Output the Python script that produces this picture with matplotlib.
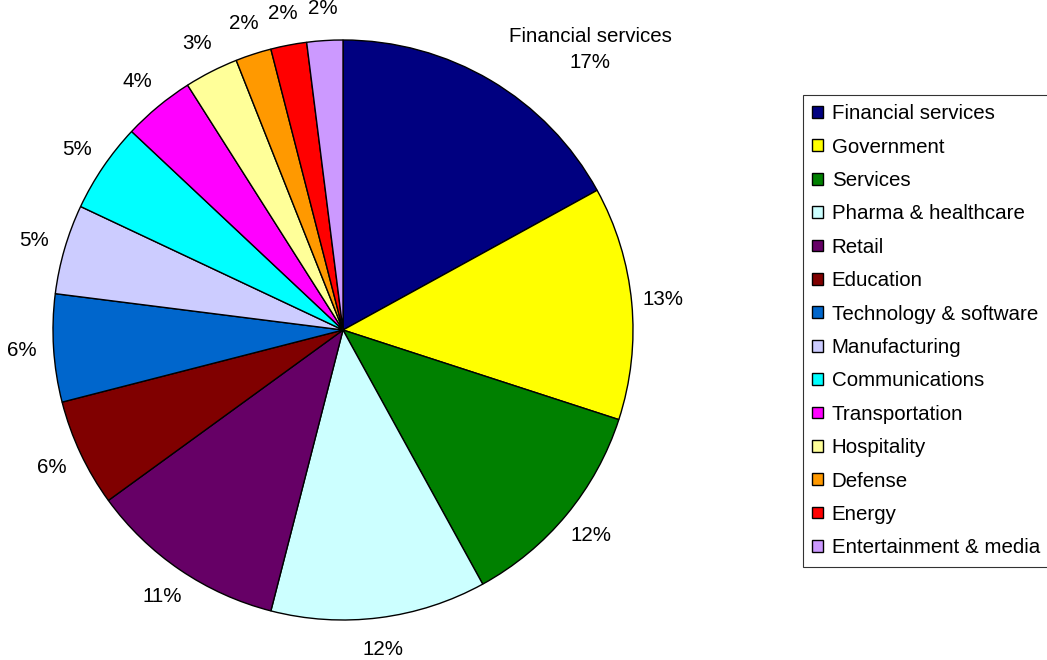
import numpy as np
import matplotlib
matplotlib.use("Agg")
import matplotlib.pyplot as plt
from matplotlib.patches import Patch

# Share of clients by industry (percent)
industries = [
    "Financial services", "Government", "Services", "Pharma & healthcare",
    "Retail", "Education", "Technology & software", "Manufacturing",
    "Communications", "Transportation", "Hospitality", "Defense",
    "Energy", "Entertainment & media",
]
shares = [17, 13, 12, 12, 11, 6, 6, 5, 5, 4, 3, 2, 2, 2]
colors = [
    "#000080", "#FFFF00", "#008000", "#CCFFFF", "#660066", "#800000",
    "#0066CC", "#CCCCFF", "#00FFFF", "#FF00FF", "#FFFF99", "#FF9900",
    "#FF0000", "#CC99FF",
]

plt.rcParams["font.family"] = ["Liberation Sans", "DejaVu Sans"]
FS = 14.8

W, H = 1047, 660
fig = plt.figure(figsize=(W / 100, H / 100), dpi=100)
fig.patch.set_facecolor("white")

# Pie: center (343, 330) px, radius 290 px
cx, cy, r = 343, 330, 290
ax = fig.add_axes([(cx - r) / W, (H - cy - r) / H, 2 * r / W, 2 * r / H])

wedges, texts, autotexts = ax.pie(
    shares,
    colors=colors,
    startangle=90,
    counterclock=False,
    radius=1,
    autopct="%1.0f%%",
    pctdistance=1.11,
    wedgeprops=dict(edgecolor="black", linewidth=1.0),
    textprops=dict(fontsize=FS, color="black"),
)
ax.set_xlim(-1, 1)
ax.set_ylim(-1, 1)
ax.axis("off")

# First slice carries its category name above the percentage
w0 = wedges[0]
mid = np.deg2rad((w0.theta1 + w0.theta2) / 2 - 10.8)
autotexts[0].set_text(f"{industries[0]}\n{autotexts[0].get_text()}")
autotexts[0].set_position((1.29 * np.cos(mid), 1.29 * np.sin(mid)))
autotexts[0].set_linespacing(1.5)

for t in autotexts:
    t.set_clip_on(False)

handles = [Patch(facecolor=c, edgecolor="black", linewidth=1.0) for c in colors]
leg = fig.legend(
    handles, industries,
    loc="upper left",
    bbox_to_anchor=(803 / W, 1 - 95 / H),
    fontsize=FS,
    frameon=True,
    fancybox=False,
    shadow=False,
    handlelength=0.5,
    handleheight=0.5,
    handletextpad=0.45,
    borderpad=0.45,
    borderaxespad=0,
    labelspacing=0.70,
)
leg.get_frame().set_edgecolor("black")
leg.get_frame().set_linewidth(0.8)

fig.savefig("out.png", dpi=100, facecolor="white")
